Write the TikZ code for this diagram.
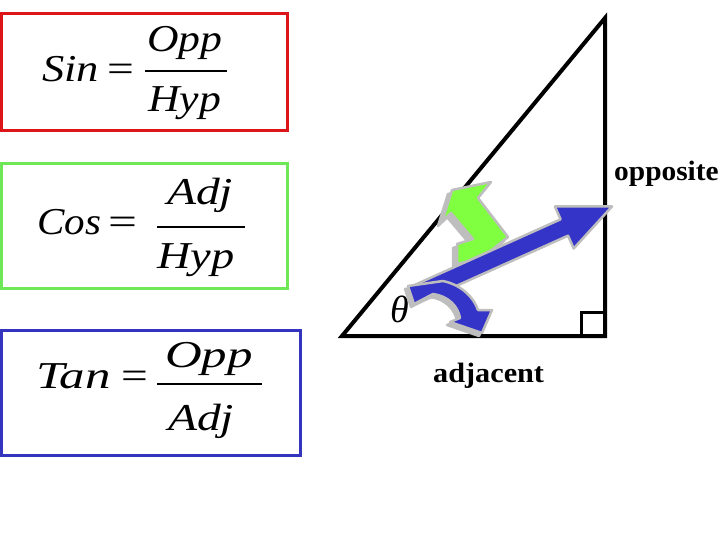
\documentclass[tikz,border=0pt]{standalone}
\usepackage{fontspec}
\usepackage{graphicx}
\setmainfont{Liberation Serif}
\definecolor{boxred}{RGB}{221,20,24}
\definecolor{boxgreen}{RGB}{110,232,86}
\definecolor{boxblue}{RGB}{52,52,190}
\definecolor{arrblue}{RGB}{52,52,200}
\definecolor{arrgreen}{RGB}{128,255,64}
\definecolor{arrgray}{RGB}{190,190,190}
\newcommand\eqsc[2]{\scalebox{#1}[1]{#2}}
\tikzset{
  eqtext/.style={inner sep=0pt, anchor=base west, font=\fontsize{38}{40}\selectfont\itshape},
  eqsign/.style={inner sep=0pt, anchor=base west, font=\fontsize{38}{40}\selectfont},
  fracbar/.style={line width=2pt},
  frame/.style={line width=3pt},
  lbl/.style={inner sep=0pt, anchor=base west, font=\fontsize{28}{30}\selectfont\bfseries},
  arrowshape/.style={draw=arrgray, line width=2.5pt, line join=round},
  shadow/.style={fill=arrgray, draw=arrgray, line width=2.5pt, line join=round}
}
\begin{document}
\begin{tikzpicture}[x=1pt,y=-1pt]
\useasboundingbox (0,0) rectangle (720,540);
% formula boxes
\draw[frame, boxred] (1.5,13.5) rectangle (287,131);
\draw[frame, boxgreen] (1.5,163.5) rectangle (287,288.5);
\draw[frame, boxblue] (1.5,330.5) rectangle (300,455.5);
% Sin
\node[eqtext] (sinl) at (42,82) {\eqsc{1.17}{Sin}};
\node[eqsign] (sineq) at (107,82) {\eqsc{1.25}{=}};
\node[eqtext] (sinn) at (147,52) {\eqsc{1.15}{Opp}};
\node[eqtext] (sind) at (148,112) {\eqsc{1.15}{Hyp}};
\draw[fracbar] (145,71) -- (227,71);
% Cos
\node[eqtext] (cosl) at (37,235) {\eqsc{1.08}{Cos}};
\node[eqsign] (coseq) at (108,235) {\eqsc{1.35}{=}};
\node[eqtext] (cosn) at (167,205) {\eqsc{1.25}{Adj}};
\node[eqtext] (cosd) at (157,268) {\eqsc{1.22}{Hyp}};
\draw[fracbar] (157,227) -- (245,227);
% Tan
\node[eqtext] (tanl) at (36,388) {\eqsc{1.34}{Tan}};
\node[eqsign] (taneq) at (121,388) {\eqsc{1.25}{=}};
\node[eqtext] (tann) at (165,367) {\eqsc{1.34}{Opp}};
\node[eqtext] (tand) at (168,430) {\eqsc{1.25}{Adj}};
\draw[fracbar] (157,384) -- (262,384);
% triangle
\draw[line width=4pt, line join=miter] (342,336) -- (605,336) -- (605,18) -- cycle;
\draw[line width=3pt] (605,312) -- (581,312) -- (581,336);
% labels
\node[lbl] (opp) at (614,181) {\eqsc{1.05}{opposite}};
\node[lbl] (adj) at (433,382) {\eqsc{1.08}{adjacent}};
\node[inner sep=0pt, anchor=base west, font=\fontsize{38}{40}\selectfont\itshape] (theta) at (390,322) {θ};
% shadows
\fill[shadow, xshift=-4pt, yshift=-4pt] (452,190) -- (491,182) -- (478,198) -- (508,237) -- (482,258) -- (457,264) -- (457,244) -- (473,239) -- (451,213) -- (442,222) -- cycle;
\fill[shadow, xshift=-3pt, yshift=-3pt] (408,286) -- (443,281) .. controls (462,285) and (474,298) .. (478,310) -- (492,310) -- (482,333) -- (450,322) -- (460,318) .. controls (458,306) and (448,296) .. (433,294) -- (414,304) -- cycle;
% green arrow
\filldraw[arrowshape, fill=arrgreen] (452,190) -- (491,182) -- (478,198) -- (508,237) -- (482,258) -- (457,264) -- (457,244) -- (473,239) -- (451,213) -- (442,222) -- cycle;
% blue straight arrow
\filldraw[arrowshape, fill=arrblue] (408.3,287.8) -- (560.6,219.3) -- (554.9,206.5) -- (612,206.5) -- (573.7,248.5) -- (568,235.7) -- (415.7,304.2) -- cycle;
% blue curved arrow
\filldraw[arrowshape, fill=arrblue] (408,286) -- (443,281) .. controls (462,285) and (474,298) .. (478,310) -- (492,310) -- (482,333) -- (450,322) -- (460,318) .. controls (458,306) and (448,296) .. (433,294) -- (414,304) -- cycle;
\end{tikzpicture}
\end{document}
